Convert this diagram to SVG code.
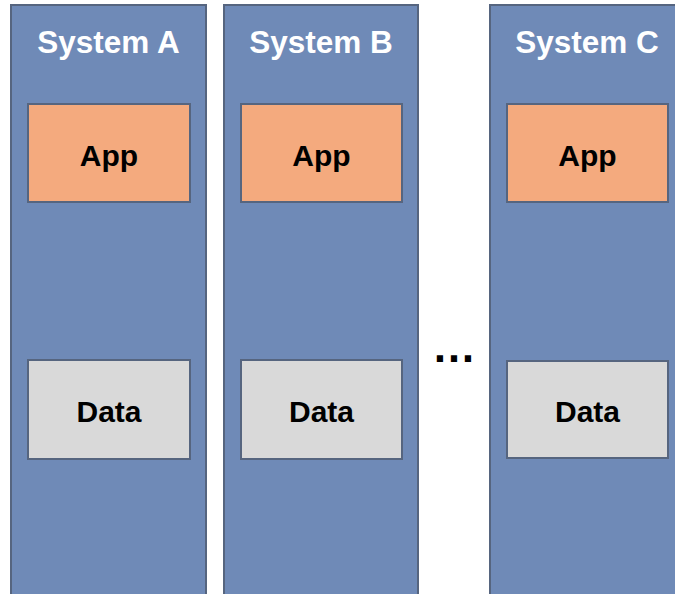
<svg xmlns="http://www.w3.org/2000/svg" width="675" height="594" viewBox="0 0 675 594">
<style>
.sys{fill:#6f8ab7;stroke:#56657f;stroke-width:2}
.app{fill:#f4aa7e;stroke:#56657f;stroke-width:2}
.data{fill:#d9d9d9;stroke:#56657f;stroke-width:2}
.t{font-family:"Liberation Sans",Arial,sans-serif;font-weight:bold;font-size:30px;text-anchor:middle}
.title{fill:#ffffff;font-size:31.5px}
.lbl{fill:#000000}
</style>
<rect width="675" height="594" fill="#ffffff"/>
<g id="systemA">
<rect class="sys" x="11" y="5" width="195" height="600"/>
<text class="t title" x="108.5" y="53">System A</text>
</g>
<g id="appA"><rect class="app" x="28" y="104" width="162" height="98"/><text class="t lbl" x="109" y="166">App</text></g>
<g id="dataA"><rect class="data" x="28" y="360" width="162" height="99"/><text class="t lbl" x="109" y="422">Data</text></g>
<g id="systemB">
<rect class="sys" x="224" y="5" width="194" height="600"/>
<text class="t title" x="321" y="53">System B</text>
</g>
<g id="appB"><rect class="app" x="241" y="104" width="161" height="98"/><text class="t lbl" x="321.5" y="166">App</text></g>
<g id="dataB"><rect class="data" x="241" y="360" width="161" height="99"/><text class="t lbl" x="321.5" y="422">Data</text></g>
<g id="systemC">
<rect class="sys" x="490" y="5" width="200" height="600"/>
<text class="t title" x="587" y="53">System C</text>
</g>
<g id="appC"><rect class="app" x="507" y="104" width="161" height="98"/><text class="t lbl" x="587.5" y="166">App</text></g>
<g id="dataC"><rect class="data" x="507" y="361" width="161" height="97"/><text class="t lbl" x="587.5" y="422">Data</text></g>
<g id="ellipsis"><text class="t lbl" x="454" y="362" style="font-size:44px">…</text></g>
<g id="connectors"></g>
</svg>
